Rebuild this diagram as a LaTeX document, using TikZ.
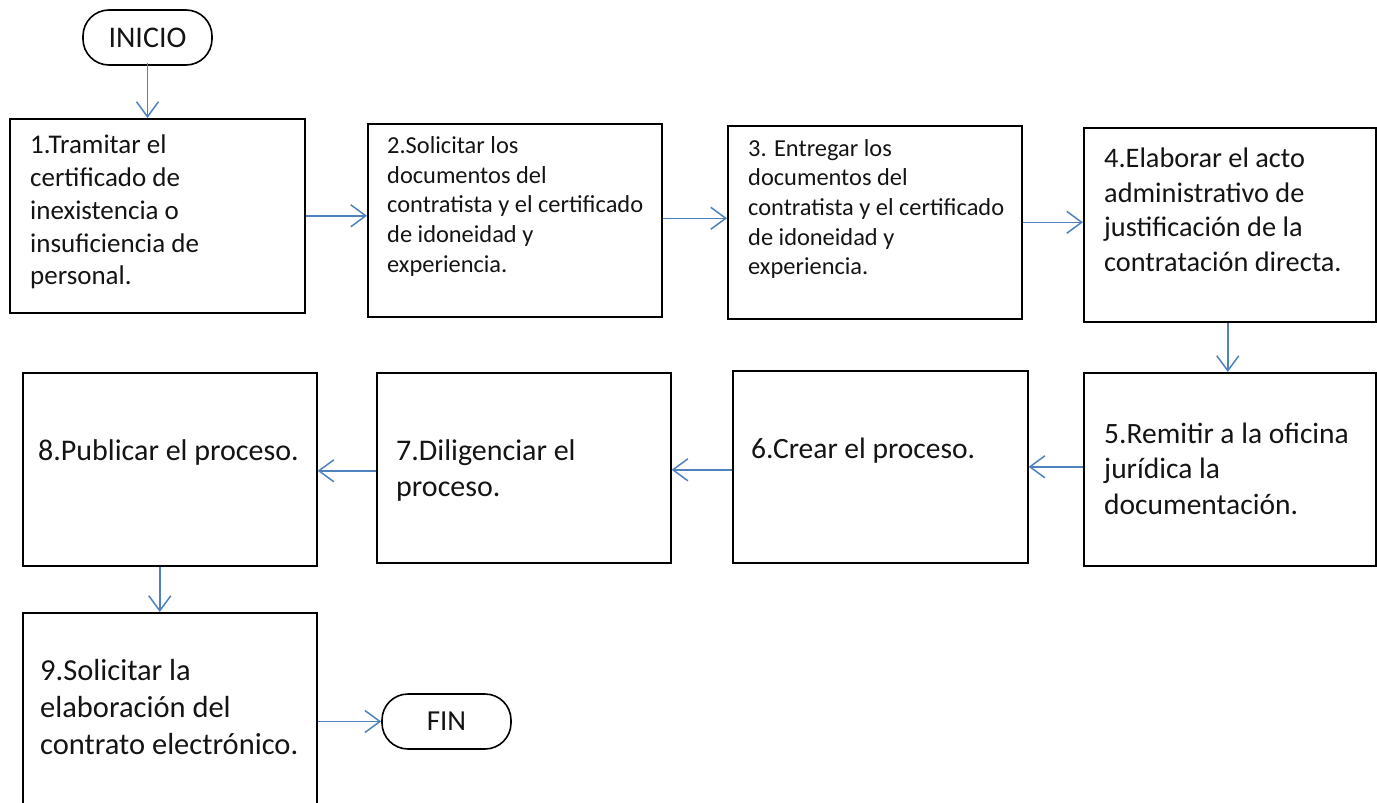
\documentclass[tikz,border=0pt]{standalone}
\usepackage{fontspec}
\setmainfont{Carlito}
\usetikzlibrary{arrows.meta}
\definecolor{arr}{HTML}{4F81BD}
\definecolor{ink}{HTML}{141414}
\begin{document}
\begin{tikzpicture}[x=1pt,y=-1pt,
  box/.style={draw=black,line width=1.6pt,anchor=north west,inner sep=0pt},
  txt/.style={anchor=north west,align=left,inner sep=0pt,text=ink},
  term/.style={draw=black,line width=1.6pt,rounded corners=26pt,minimum width=129pt,minimum height=55pt,inner sep=0pt,text=ink},
  flow/.style={draw=arr,line width=1.5pt,-{Straight Barb[length=15pt,width=22pt]}}]
\useasboundingbox (0,0) rectangle (1377,803);
\clip (0,0) rectangle (1377,803);
% terminals
\node[term,font=\fontsize{30}{34}\selectfont] (ini) at (147.5,37.5) {INICIO};
\node[term,font=\fontsize{29}{34}\selectfont] (fin) at (446.5,721.5) {FIN};
% boxes
\node[box,minimum width=295pt,minimum height=194pt] (b1) at (9,118) {};
\node[box,minimum width=294pt,minimum height=193pt] (b2) at (367,123) {};
\node[box,minimum width=294pt,minimum height=193pt] (b3) at (727,125) {};
\node[box,minimum width=292pt,minimum height=194pt] (b4) at (1083,127) {};
\node[box,minimum width=292pt,minimum height=193pt] (b5) at (1083,372) {};
\node[box,minimum width=295pt,minimum height=192pt] (b6) at (732,370) {};
\node[box,minimum width=294pt,minimum height=190pt] (b7) at (376,372) {};
\node[box,minimum width=294pt,minimum height=193pt] (b8) at (22,372) {};
\node[box,minimum width=294pt,minimum height=210pt] (b9) at (22,612) {};
% texts
\node[txt,font=\fontsize{27}{32.75}\selectfont] (t1) at (30,135) {1.Tramitar el\\certificado de\\inexistencia o\\insuficiencia de\\personal.};
\node[txt,font=\fontsize{24.4}{29.7}\selectfont] (t2) at (387,136.4) {2.Solicitar los\\documentos del\\contratista y el certificado\\de idoneidad y\\experiencia.};
\node[txt,font=\fontsize{24.4}{29.7}\selectfont] (t3) at (748,139) {3. Entregar los\\documentos del\\contratista y el certificado\\de idoneidad y\\experiencia.};
\node[txt,font=\fontsize{28.3}{34.7}\selectfont] (t4) at (1104,147.6) {4.Elaborar el acto\\administrativo de\\justificación de la\\contratación directa.};
\node[txt,font=\fontsize{29.5}{35.5}\selectfont] (t5) at (1104,422.7) {5.Remitir a la oficina\\jurídica la\\documentación.};
\node[txt,font=\fontsize{29.5}{36}\selectfont] (t6) at (751,437.7) {6.Crear el proceso.};
\node[txt,font=\fontsize{30}{36}\selectfont] (t7) at (396,439.3) {7.Diligenciar el\\proceso.};
\node[txt,font=\fontsize{30}{36}\selectfont] (t8) at (38,439.3) {8.Publicar el proceso.};
\node[txt,font=\fontsize{30.5}{37}\selectfont] (t9) at (40,658.9) {9.Solicitar la\\elaboración del\\contrato electrónico.};
% connectors
\draw[flow] ([yshift=3pt]ini.south) -- (ini.south |- b1.north);
\draw[flow] (b1.east) -- (b1.east -| b2.west);
\draw[flow] ([yshift=2pt]b2.east) -- ([yshift=2pt]b2.east -| b3.west);
\draw[flow] (b3.east) -- (b3.east -| b4.west);
\draw[flow] ([xshift=-2pt]b4.south) -- ([xshift=-2pt]b4.south |- b5.north);
\draw[flow] (b5.west |- b6.east) -- (b6.east);
\draw[flow] ([yshift=-3pt]b6.west) -- ([yshift=-3pt]b6.west -| b7.east);
\draw[flow] ([yshift=-3pt]b7.west) -- ([yshift=-3pt]b7.west -| b8.east);
\draw[flow] ([xshift=-10pt]b8.south) -- ([xshift=-10pt]b8.south |- b9.north);
\draw[flow] (b9.east |- fin.west) -- (fin.west);
\end{tikzpicture}
\end{document}
